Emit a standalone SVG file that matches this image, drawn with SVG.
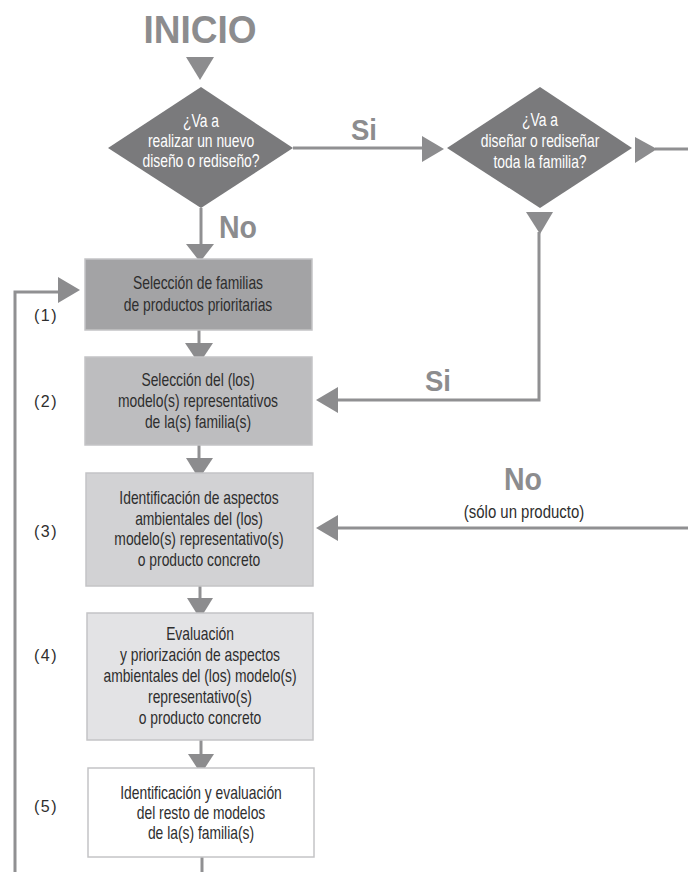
<svg xmlns="http://www.w3.org/2000/svg" width="688" height="872" viewBox="0 0 688 872">
<style>
text{font-family:"Liberation Sans",Arial,sans-serif;}
.big{font-weight:bold;fill:#8c8c8e;text-anchor:middle;}
.dt{font-size:18px;fill:#ffffff;text-anchor:middle;}
.bt{font-size:18px;fill:#2e2e2e;text-anchor:middle;}
.num{font-size:16px;fill:#2e2e2e;text-anchor:middle;letter-spacing:1.5px;}
.dia{fill:#7a7a7c;}
.box{stroke:#c4c4c6;stroke-width:1.5;}
.ln{fill:none;stroke:#909092;stroke-width:3;}
.tri{fill:#8c8c8e;}
</style>
<text class="big" transform="translate(200,43) scale(0.95,1)" font-size="39">INICIO</text>
<g id="connectors">
<polygon class="tri" points="186,57 214,57 200,80"/>
<path class="ln" d="M293,148 H423"/>
<polygon class="tri" points="422,136 422,162 444,149"/>
<path class="ln" d="M201,208 V246"/>
<polygon class="tri" points="186,244 214,244 200,262"/>
<path class="ln" d="M655,149 H688"/>
<polygon class="tri" points="635,137 635,163 657,149"/>
<polygon class="tri" points="526,212 553,212 540,234"/>
<path class="ln" d="M539,232 V400 H336"/>
<polygon class="tri" points="338,387 338,413 316,400"/>
<path class="ln" d="M688,528 H336"/>
<polygon class="tri" points="338,515 338,541 316,528"/>
<path class="ln" d="M15,872 V292 H60"/>
<polygon class="tri" points="58,277 58,303 80,290"/>
<path class="ln" d="M199,330 V345"/>
<polygon class="tri" points="185,343 213,343 199,364"/>
<path class="ln" d="M199,445 V460"/>
<polygon class="tri" points="186,458 213,458 199,479"/>
<path class="ln" d="M200,586 V600"/>
<polygon class="tri" points="187,598 213,598 200,619"/>
<path class="ln" d="M201,740 V756"/>
<polygon class="tri" points="188,754 214,754 201,774"/>
<path class="ln" d="M202,857 V872"/>
<text class="big" transform="translate(364,140) scale(0.95,1)" font-size="29">Si</text>
<text class="big" transform="translate(238,238) scale(0.92,1)" font-size="31">No</text>
<text class="big" transform="translate(438,391) scale(0.95,1)" font-size="29">Si</text>
<text class="big" transform="translate(523,490) scale(0.92,1)" font-size="31">No</text>
<text class="bt" transform="translate(524,518) scale(0.83,1)" font-size="16">(sólo un producto)</text>
</g>
<g id="d1">
<polygon class="dia" points="201,87 293,148 201,208 108,148"/>
<text class="dt" transform="translate(201,127) scale(0.77,1)">¿Va a</text>
<text class="dt" transform="translate(201,147) scale(0.77,1)">realizar un nuevo</text>
<text class="dt" transform="translate(201,167) scale(0.77,1)">diseño o rediseño?</text>
</g>
<g id="d2">
<polygon class="dia" points="540,87 632,148 540,208 447,148"/>
<text class="dt" transform="translate(540,126) scale(0.77,1)">¿Va a</text>
<text class="dt" transform="translate(540,147) scale(0.77,1)">diseñar o rediseñar</text>
<text class="dt" transform="translate(540,168) scale(0.77,1)">toda la familia?</text>
</g>
<g id="n1">
<rect class="box" x="85" y="259" width="227" height="71" fill="#a3a3a5"/>
<text class="bt" transform="translate(198,289) scale(0.77,1)">Selección de familias</text>
<text class="bt" transform="translate(198,311) scale(0.77,1)">de productos prioritarias</text>
<text class="num" x="46" y="321">(1)</text>
</g>
<g id="n2">
<rect class="box" x="85" y="357" width="227" height="88" fill="#bdbdbf"/>
<text class="bt" transform="translate(198,386) scale(0.77,1)">Selección del (los)</text>
<text class="bt" transform="translate(198,407) scale(0.77,1)">modelo(s) representativos</text>
<text class="bt" transform="translate(198,428) scale(0.77,1)">de la(s) familia(s)</text>
<text class="num" x="46" y="407">(2)</text>
</g>
<g id="n3">
<rect class="box" x="86" y="473" width="227" height="113" fill="#d2d2d4"/>
<text class="bt" transform="translate(199,504) scale(0.77,1)">Identificación de aspectos</text>
<text class="bt" transform="translate(199,525) scale(0.77,1)">ambientales del (los)</text>
<text class="bt" transform="translate(199,545) scale(0.77,1)">modelo(s) representativo(s)</text>
<text class="bt" transform="translate(199,566) scale(0.77,1)">o producto concreto</text>
<text class="num" x="46" y="537">(3)</text>
</g>
<g id="n4">
<rect class="box" x="87" y="613" width="226" height="127" fill="#e3e3e5"/>
<text class="bt" transform="translate(200,640) scale(0.77,1)">Evaluación</text>
<text class="bt" transform="translate(200,661) scale(0.77,1)">y priorización de aspectos</text>
<text class="bt" transform="translate(200,682) scale(0.77,1)">ambientales del (los) modelo(s)</text>
<text class="bt" transform="translate(200,703) scale(0.77,1)">representativo(s)</text>
<text class="bt" transform="translate(200,724) scale(0.77,1)">o producto concreto</text>
<text class="num" x="46" y="661">(4)</text>
</g>
<g id="n5">
<rect class="box" x="88" y="768" width="226" height="89" fill="#ffffff"/>
<text class="bt" transform="translate(201,799) scale(0.77,1)">Identificación y evaluación</text>
<text class="bt" transform="translate(201,819) scale(0.77,1)">del resto de modelos</text>
<text class="bt" transform="translate(201,839) scale(0.77,1)">de la(s) familia(s)</text>
<text class="num" x="46" y="812">(5)</text>
</g>
</svg>
